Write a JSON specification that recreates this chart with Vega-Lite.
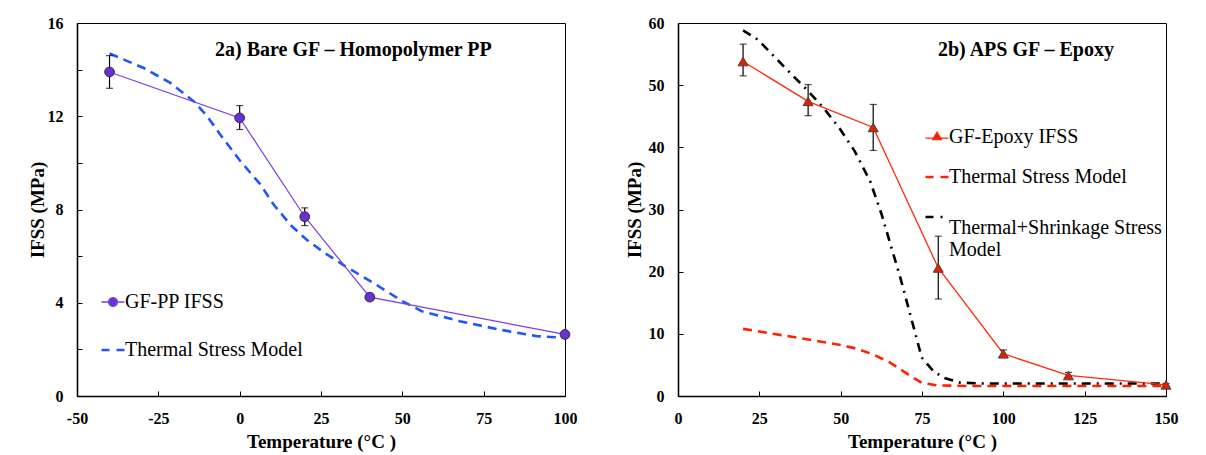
{
  "$schema": "https://vega.github.io/schema/vega-lite/v6.json",
  "autosize": {"type": "pad"},
  "padding": {"left": 27, "top": 14, "right": 10, "bottom": 2},
  "background": "white",
  "bounds": "flush",
  "spacing": 113,
  "resolve": {"scale": {"color": "independent", "strokeDash": "independent"}, "legend": {"color": "independent"}},
  "config": {
    "font": "Liberation Serif, serif",
    "view": {"stroke": "black", "strokeWidth": 1},
    "axis": {
      "labelFont": "Liberation Serif, serif", "labelFontWeight": "bold", "labelFontSize": 16, "labelColor": "black",
      "titleFont": "Liberation Serif, serif", "titleFontWeight": "bold", "titleFontSize": 19, "titleColor": "black",
      "domainColor": "black", "domainWidth": 1.6, "tickColor": "black", "tickSize": -5, "tickWidth": 1,
      "grid": false, "labelFlush": false, "labelOverlap": false, "labelPadding": 19,
      "labelExpr": "replace(datum.label, '−', '-')"
    },
    "axisY": {"titlePadding": 0},
    "axisX": {"titlePadding": 6},
    "title": {"font": "Liberation Serif, serif", "fontSize": 20, "fontWeight": "bold", "color": "black"},
    "legend": {"labelFont": "Liberation Serif, serif", "labelFontSize": 20, "labelColor": "black", "labelFontWeight": "normal", "symbolSize": 529, "labelOffset": 2, "labelLimit": 400}
  },
  "datasets": {
    "pp": [
      {"T": -40, "IFSS": 13.9, "lo": 13.2, "hi": 14.6, "series": "GF-PP IFSS"},
      {"T": 0, "IFSS": 11.93, "lo": 11.43, "hi": 12.46, "series": "GF-PP IFSS"},
      {"T": 20, "IFSS": 7.69, "lo": 7.31, "hi": 8.07, "series": "GF-PP IFSS"},
      {"T": 40, "IFSS": 4.24, "lo": 4.1, "hi": 4.4, "series": "GF-PP IFSS"},
      {"T": 100, "IFSS": 2.64, "lo": 2.5, "hi": 2.78, "series": "GF-PP IFSS"}
    ],
    "ppModel": [
      {"T": -40, "IFSS": 14.69, "series": "Thermal Stress Model"},
      {"T": -29.5, "IFSS": 14.07, "series": "Thermal Stress Model"},
      {"T": -21.3, "IFSS": 13.43, "series": "Thermal Stress Model"},
      {"T": -14.1, "IFSS": 12.64, "series": "Thermal Stress Model"},
      {"T": -10, "IFSS": 12.0, "series": "Thermal Stress Model"},
      {"T": -5.9, "IFSS": 11.2, "series": "Thermal Stress Model"},
      {"T": 0.25, "IFSS": 10.07, "series": "Thermal Stress Model"},
      {"T": 6.4, "IFSS": 9.07, "series": "Thermal Stress Model"},
      {"T": 10.5, "IFSS": 8.2, "series": "Thermal Stress Model"},
      {"T": 15.9, "IFSS": 7.3, "series": "Thermal Stress Model"},
      {"T": 20.6, "IFSS": 6.7, "series": "Thermal Stress Model"},
      {"T": 26, "IFSS": 6.15, "series": "Thermal Stress Model"},
      {"T": 32.4, "IFSS": 5.57, "series": "Thermal Stress Model"},
      {"T": 41.8, "IFSS": 4.79, "series": "Thermal Stress Model"},
      {"T": 50, "IFSS": 4.07, "series": "Thermal Stress Model"},
      {"T": 55.9, "IFSS": 3.64, "series": "Thermal Stress Model"},
      {"T": 67.6, "IFSS": 3.21, "series": "Thermal Stress Model"},
      {"T": 79.4, "IFSS": 2.86, "series": "Thermal Stress Model"},
      {"T": 91.2, "IFSS": 2.57, "series": "Thermal Stress Model"},
      {"T": 100, "IFSS": 2.5, "series": "Thermal Stress Model"}
    ],
    "ep": [
      {"T": 20, "IFSS": 53.8, "lo": 51.5, "hi": 56.6, "series": "GF-Epoxy IFSS"},
      {"T": 40, "IFSS": 47.4, "lo": 45.1, "hi": 50.1, "series": "GF-Epoxy IFSS"},
      {"T": 60, "IFSS": 43.2, "lo": 39.5, "hi": 46.9, "series": "GF-Epoxy IFSS"},
      {"T": 80, "IFSS": 20.6, "lo": 15.6, "hi": 25.7, "series": "GF-Epoxy IFSS"},
      {"T": 100, "IFSS": 6.8, "lo": 6.2, "hi": 7.4, "series": "GF-Epoxy IFSS"},
      {"T": 120, "IFSS": 3.3, "lo": 2.8, "hi": 3.8, "series": "GF-Epoxy IFSS"},
      {"T": 150, "IFSS": 1.8, "lo": 1.6, "hi": 2.0, "series": "GF-Epoxy IFSS"}
    ],
    "epModel": [
      {"T": 20, "IFSS": 10.8, "series": "Thermal Stress Model"},
      {"T": 40, "IFSS": 9.1, "series": "Thermal Stress Model"},
      {"T": 50, "IFSS": 8.2, "series": "Thermal Stress Model"},
      {"T": 55, "IFSS": 7.6, "series": "Thermal Stress Model"},
      {"T": 60, "IFSS": 6.7, "series": "Thermal Stress Model"},
      {"T": 65.2, "IFSS": 5.36, "series": "Thermal Stress Model"},
      {"T": 72.3, "IFSS": 2.95, "series": "Thermal Stress Model"},
      {"T": 75, "IFSS": 2.1, "series": "Thermal Stress Model"},
      {"T": 79.5, "IFSS": 1.72, "series": "Thermal Stress Model"},
      {"T": 90, "IFSS": 1.6, "series": "Thermal Stress Model"},
      {"T": 150, "IFSS": 1.6, "series": "Thermal Stress Model"},
      {"T": 20, "IFSS": 58.8, "series": "Thermal+Shrinkage Stress Model"},
      {"T": 24.6, "IFSS": 57.3, "series": "Thermal+Shrinkage Stress Model"},
      {"T": 32.9, "IFSS": 52.8, "series": "Thermal+Shrinkage Stress Model"},
      {"T": 40.1, "IFSS": 49.0, "series": "Thermal+Shrinkage Stress Model"},
      {"T": 44.8, "IFSS": 46.3, "series": "Thermal+Shrinkage Stress Model"},
      {"T": 49.6, "IFSS": 43.1, "series": "Thermal+Shrinkage Stress Model"},
      {"T": 54.3, "IFSS": 39.4, "series": "Thermal+Shrinkage Stress Model"},
      {"T": 59.1, "IFSS": 34.5, "series": "Thermal+Shrinkage Stress Model"},
      {"T": 62.6, "IFSS": 29.2, "series": "Thermal+Shrinkage Stress Model"},
      {"T": 66.2, "IFSS": 22.8, "series": "Thermal+Shrinkage Stress Model"},
      {"T": 68.2, "IFSS": 19.3, "series": "Thermal+Shrinkage Stress Model"},
      {"T": 71.8, "IFSS": 12.3, "series": "Thermal+Shrinkage Stress Model"},
      {"T": 74.9, "IFSS": 6.2, "series": "Thermal+Shrinkage Stress Model"},
      {"T": 78.5, "IFSS": 4.0, "series": "Thermal+Shrinkage Stress Model"},
      {"T": 81.6, "IFSS": 2.95, "series": "Thermal+Shrinkage Stress Model"},
      {"T": 86.7, "IFSS": 2.15, "series": "Thermal+Shrinkage Stress Model"},
      {"T": 95, "IFSS": 2.0, "series": "Thermal+Shrinkage Stress Model"},
      {"T": 150, "IFSS": 2.0, "series": "Thermal+Shrinkage Stress Model"}
    ]
  },
  "hconcat": [
    {
      "width": 488,
      "height": 373,
      "title": {"text": "2a) Bare GF – Homopolymer PP", "anchor": "start", "frame": "group", "dx": 138, "offset": -45, "baseline": "top"},
      "layer": [
        {
          "data": {"name": "ppModel"},
          "mark": {"type": "line", "strokeWidth": 2.6, "strokeDash": [9, 6]},
          "encoding": {
            "x": {"field": "T", "type": "quantitative", "title": "Temperature (°C )", "scale": {"domain": [-50, 100], "nice": false, "zero": false}, "axis": {"values": [-50, -25, 0, 25, 50, 75, 100]}},
            "y": {"field": "IFSS", "type": "quantitative", "title": "IFSS (MPa)", "scale": {"domain": [0, 16], "nice": false}, "axis": {"values": [0, 2, 4, 6, 8, 10, 12, 14, 16], "labelExpr": "datum.value % 4 == 0 ? datum.label : ''"}},
            "color": {
              "field": "series", "type": "nominal",
              "scale": {"domain": ["GF-PP IFSS", "Thermal Stress Model"], "range": ["#7a3ee6", "#1f55ff"]},
              "legend": {
                "title": null, "orient": "none", "legendX": 26, "legendY": 269, "rowPadding": 28, "symbolType": "stroke",
                "labelFont": "Liberation Serif, serif", "labelFontSize": 20,
                "encode": {
                  "symbols": {
                    "update": {
                      "shape": {"signal": "datum.value === 'GF-PP IFSS' ? 'M-1,0H-0.38M0.38,0H1M-0.38,0A0.38,0.38 0 1,1 0.38,0A0.38,0.38 0 1,1 -0.38,0Z' : 'stroke'"},
                      "fill": {"signal": "datum.value === 'GF-PP IFSS' ? '#6a2fd6' : 'transparent'"},
                      "strokeWidth": {"signal": "datum.value === 'GF-PP IFSS' ? 1.3 : 2.6"},
                      "strokeDash": {"signal": "datum.value === 'GF-PP IFSS' ? [1, 0] : [8, 7]"},
                      "opacity": {"value": 1}
                    }
                  }
                }
              }
            }
          }
        },
        {
          "data": {"name": "pp"},
          "mark": {"type": "line", "strokeWidth": 1.2},
          "encoding": {
            "x": {"field": "T", "type": "quantitative", "title": "Temperature (°C )"},
            "y": {"field": "IFSS", "type": "quantitative", "title": "IFSS (MPa)"},
            "color": {"field": "series", "type": "nominal"}
          }
        },
        {
          "data": {"name": "pp"},
          "mark": {"type": "errorbar", "rule": {"color": "black", "strokeWidth": 1.2}, "ticks": {"color": "black", "size": 7, "thickness": 1.2}},
          "encoding": {
            "x": {"field": "T", "type": "quantitative", "title": "Temperature (°C )"},
            "y": {"field": "lo", "type": "quantitative", "title": "IFSS (MPa)"},
            "y2": {"field": "hi"}
          }
        },
        {
          "data": {"name": "pp"},
          "mark": {"type": "point", "shape": "circle", "filled": true, "size": 95, "fill": "#6a2fd6", "stroke": "#333333", "strokeWidth": 1, "opacity": 1},
          "encoding": {
            "x": {"field": "T", "type": "quantitative", "title": "Temperature (°C )"},
            "y": {"field": "IFSS", "type": "quantitative", "title": "IFSS (MPa)"}
          }
        }
      ]
    },
    {
      "width": 488,
      "height": 373,
      "title": {"text": "2b) APS GF – Epoxy", "anchor": "start", "frame": "group", "dx": 260, "offset": -45, "baseline": "top"},
      "layer": [
        {
          "data": {"name": "epModel"},
          "mark": {"type": "line", "strokeWidth": 2.6},
          "encoding": {
            "x": {"field": "T", "type": "quantitative", "title": "Temperature (°C )", "scale": {"domain": [0, 150], "nice": false}, "axis": {"values": [0, 25, 50, 75, 100, 125, 150]}},
            "y": {"field": "IFSS", "type": "quantitative", "title": "IFSS (MPa)", "scale": {"domain": [0, 60], "nice": false}, "axis": {"values": [0, 5, 10, 15, 20, 25, 30, 35, 40, 45, 50, 55, 60], "labelExpr": "datum.value % 10 == 0 ? datum.label : ''", "titlePadding": 4}},
            "color": {
              "field": "series", "type": "nominal",
              "scale": {"domain": ["GF-Epoxy IFSS", "Thermal Stress Model", "Thermal+Shrinkage Stress Model"], "range": ["#ff2a0a", "#ff2200", "#000000"]},
              "legend": {
                "title": null, "orient": "none", "legendX": 249, "legendY": 104, "rowPadding": 20, "symbolType": "stroke",
                "labelFont": "Liberation Serif, serif", "labelFontSize": 20,
                "labelExpr": "datum.label == 'Thermal+Shrinkage Stress Model' ? ['Thermal+Shrinkage Stress', 'Model'] : datum.label",
                "encode": {
                  "labels": {
                    "update": {
                      "dy": {"signal": "datum.value === 'Thermal+Shrinkage Stress Model' ? 11 : 0"}
                    }
                  },
                  "symbols": {
                    "update": {
                      "shape": {"signal": "datum.value === 'GF-Epoxy IFSS' ? 'M-1,0.1H1M0,-0.42L0.38,0.22L-0.38,0.22Z' : 'stroke'"},
                      "fill": {"signal": "datum.value === 'GF-Epoxy IFSS' ? '#e81e00' : 'transparent'"},
                      "strokeWidth": {"signal": "datum.value === 'GF-Epoxy IFSS' ? 1.3 : 2.6"},
                      "strokeDash": {"signal": "datum.value === 'GF-Epoxy IFSS' ? [1, 0] : datum.value === 'Thermal Stress Model' ? [8, 7] : [8, 7, 2, 7]"},
                      "opacity": {"value": 1}
                    }
                  }
                }
              }
            },
            "strokeDash": {
              "field": "series", "type": "nominal",
              "scale": {"domain": ["Thermal Stress Model", "Thermal+Shrinkage Stress Model"], "range": [[9, 6], [9, 6, 2, 6]]},
              "legend": null
            }
          }
        },
        {
          "data": {"name": "ep"},
          "mark": {"type": "line", "strokeWidth": 1.3},
          "encoding": {
            "x": {"field": "T", "type": "quantitative", "title": "Temperature (°C )"},
            "y": {"field": "IFSS", "type": "quantitative", "title": "IFSS (MPa)"},
            "color": {"field": "series", "type": "nominal"}
          }
        },
        {
          "data": {"name": "ep"},
          "mark": {"type": "errorbar", "rule": {"color": "black", "strokeWidth": 1.2}, "ticks": {"color": "black", "size": 7, "thickness": 1.2}},
          "encoding": {
            "x": {"field": "T", "type": "quantitative", "title": "Temperature (°C )"},
            "y": {"field": "lo", "type": "quantitative", "title": "IFSS (MPa)"},
            "y2": {"field": "hi"}
          }
        },
        {
          "data": {"name": "ep"},
          "mark": {"type": "point", "shape": "triangle-up", "filled": true, "size": 100, "fill": "#e81e00", "stroke": "#444444", "strokeWidth": 1, "opacity": 1},
          "encoding": {
            "x": {"field": "T", "type": "quantitative", "title": "Temperature (°C )"},
            "y": {"field": "IFSS", "type": "quantitative", "title": "IFSS (MPa)"}
          }
        }
      ]
    }
  ]
}
